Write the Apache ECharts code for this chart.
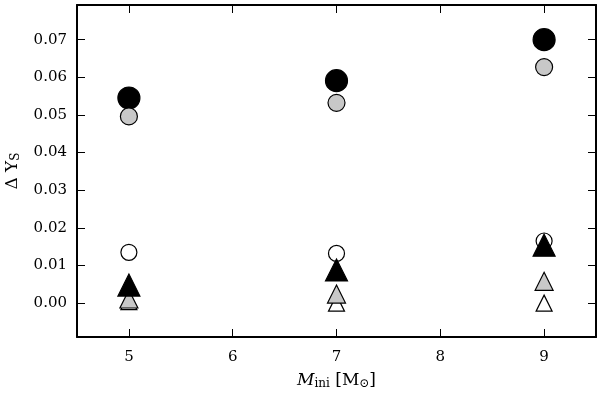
<!DOCTYPE html>
<html>
<head>
<meta charset="utf-8">
<script src="https://cdn.jsdelivr.net/npm/echarts@6/dist/echarts.min.js"></script>
<style>
  html, body { margin: 0; padding: 0; background: #fff; }
  #chart { width: 600px; height: 393px; }
</style>
</head>
<body>
<div id="chart"></div>
<script>
// initial masses and helium enrichment for each model set
const masses = [5, 7, 9];
const blackCircles = [0.0545, 0.0591, 0.0700];
const grayCircles = [0.0496, 0.0532, 0.0627];
const whiteCircles = [0.0135, 0.0132, 0.0165];
const blackTriangles = [0.0048, 0.0088, 0.0154];
const grayTriangles = [0.0011, 0.0024, 0.0058];
const whiteTriangles = [0.0004, 0.0, 0.0];

const xTicks = [5, 6, 7, 8, 9];
const yTicks = [0, 0.01, 0.02, 0.03, 0.04, 0.05, 0.06, 0.07];

const FONT = "DejaVu Serif";

function pairs(values) {
  return masses.map((m, i) => [m, values[i]]);
}

function markerSeries(values, symbol, size, fill, z) {
  return {
    type: "scatter",
    data: pairs(values),
    symbol: symbol,
    symbolSize: size,
    z: z,
    itemStyle: { color: fill, borderColor: "#000", borderWidth: 1.2, opacity: 1 },
    emphasis: { disabled: true },
  };
}

function xAxisDef(pos, showLabels) {
  return {
    type: "value",
    position: pos,
    min: 4.5,
    max: 9.5,
    splitLine: { show: false },
    axisLine: { show: true, onZero: false, lineStyle: { color: "#000", width: 2 } },
    axisTick: { inside: true, length: 8, customValues: xTicks, lineStyle: { color: "#000", width: 1 } },
    axisLabel: {
      show: showLabels,
      customValues: xTicks,
      margin: 13,
      color: "#000",
      fontFamily: FONT,
      fontSize: 15,
    },
  };
}

function yAxisDef(pos, showLabels) {
  return {
    type: "value",
    position: pos,
    min: -0.009,
    max: 0.0792,
    splitLine: { show: false },
    axisLine: { show: true, onZero: false, lineStyle: { color: "#000", width: 2 } },
    axisTick: { inside: true, length: 8, customValues: yTicks, lineStyle: { color: "#000", width: 1 } },
    axisLabel: {
      show: showLabels,
      customValues: yTicks,
      margin: 10,
      color: "#000",
      fontFamily: FONT,
      fontSize: 15,
      formatter: (v) => v.toFixed(2),
    },
  };
}

const xBottom = xAxisDef("bottom", true);
xBottom.name = "{it|M}{sub|ini} [M{sub|⊙}]";
xBottom.nameLocation = "middle";
xBottom.nameGap = 34;
xBottom.nameTextStyle = {
  color: "#000",
  fontFamily: FONT,
  fontSize: 17,
  rich: {
    it: { fontFamily: FONT, fontSize: 17, fontStyle: "italic", color: "#000" },
    sub: { fontFamily: FONT, fontSize: 12, color: "#000", verticalAlign: "bottom", padding: [7, 0, 0, 0] },
  },
};

const yLeft = yAxisDef("left", true);
yLeft.name = "Δ Y{sub|S}";
yLeft.nameLocation = "middle";
yLeft.nameGap = 55;
yLeft.nameTextStyle = {
  color: "#000",
  fontFamily: FONT,
  fontSize: 17,
  rich: {
    sub: { fontFamily: FONT, fontSize: 12, color: "#000", verticalAlign: "bottom", padding: [7, 0, 0, 0] },
  },
};

const options = {
  backgroundColor: "#fff",
  animation: false,
  grid: { left: 77, right: 4, top: 5, bottom: 56, outerBoundsMode: "none", containLabel: false },
  xAxis: [xBottom, xAxisDef("top", false)],
  yAxis: [yLeft, yAxisDef("right", false)],
  series: [
    markerSeries(blackCircles, "circle", 22, "#000", 2),
    markerSeries(grayCircles, "circle", 17, "#c8c8c8", 3),
    markerSeries(whiteCircles, "circle", 16, "#fff", 4),
    markerSeries(whiteTriangles, "triangle", [16, 16], "#fff", 5),
    markerSeries(grayTriangles, "triangle", [18, 18], "#c8c8c8", 6),
    markerSeries(blackTriangles, "triangle", [22, 22], "#000", 7),
  ],
};

const chart = echarts.init(document.querySelector("#chart"), null, { renderer: "canvas" });
chart.setOption(options);
</script>
</body>
</html>
